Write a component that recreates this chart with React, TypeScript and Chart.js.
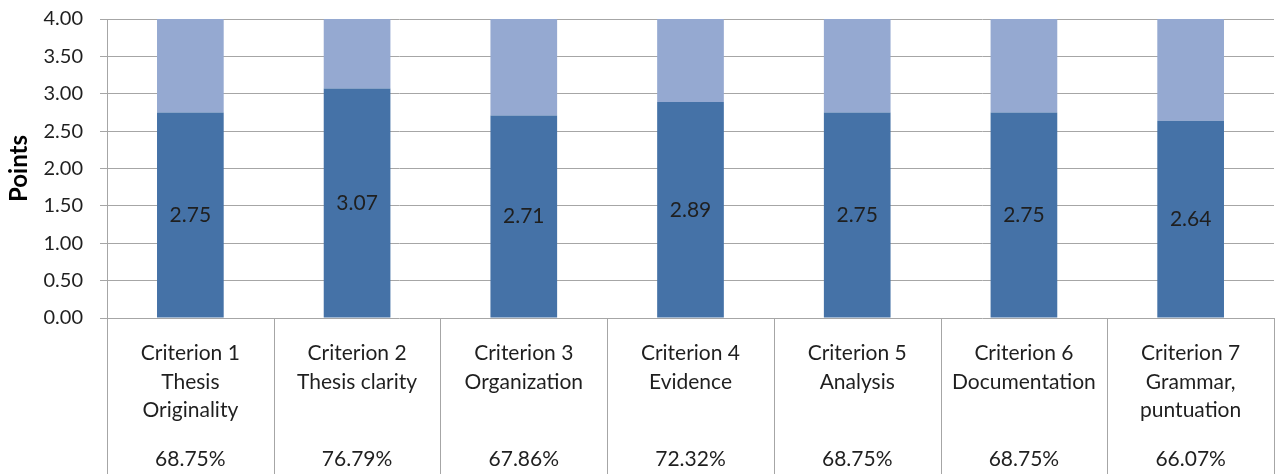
import { useEffect, useRef } from "react";
import { Chart, registerables } from "chart.js";

Chart.register(...registerables);

const categories: string[][] = [
  ["Criterion 1", "Thesis", "Originality"],
  ["Criterion 2", "Thesis clarity"],
  ["Criterion 3", "Organization"],
  ["Criterion 4", "Evidence"],
  ["Criterion 5", "Analysis"],
  ["Criterion 6", "Documentation"],
  ["Criterion 7", "Grammar,", "puntuation"],
];
const percentLabels = ["68.75%", "76.79%", "67.86%", "72.32%", "68.75%", "68.75%", "66.07%"];
const scores = [2.75, 3.07, 2.71, 2.89, 2.75, 2.75, 2.64];
const remaining = [1.25, 0.93, 1.29, 1.11, 1.25, 1.25, 1.36];
const yMin = 0;
const yMax = 4;
const yStep = 0.5;

const FONT = "Lato, 'Noto Sans', sans-serif";
const GRID = "#a6a6a6";
const TEXT = "#1f1f1f";

export default function App() {
  const ref = useRef<HTMLCanvasElement | null>(null);

  useEffect(() => {
    document.body.style.margin = "0";
    const canvas = ref.current;
    if (!canvas) return;

    const separators = {
      id: "separators",
      afterDraw(chart: any) {
        const xs = chart.scales.x;
        const n = categories.length;
        const step = xs.getPixelForValue(1) - xs.getPixelForValue(0);
        const ctx = chart.ctx;
        ctx.save();
        ctx.strokeStyle = GRID;
        ctx.lineWidth = 1;
        for (let i = 0; i <= n; i++) {
          const px = Math.round(xs.getPixelForValue(i) - step / 2) + 0.5;
          ctx.beginPath();
          ctx.moveTo(px, chart.chartArea.bottom);
          ctx.lineTo(px, chart.height);
          ctx.stroke();
        }
        ctx.restore();
      },
    };

    const valueLabels = {
      id: "valueLabels",
      afterDatasetsDraw(chart: any) {
        const meta = chart.getDatasetMeta(0);
        const ctx = chart.ctx;
        ctx.save();
        ctx.font = `21px ${FONT}`;
        ctx.fillStyle = TEXT;
        ctx.textAlign = "center";
        ctx.textBaseline = "middle";
        meta.data.forEach((el: any, i: number) => {
          const { x, y, base } = el.getProps(["x", "y", "base"], true);
          ctx.fillText(scores[i].toFixed(2), x, (y + base) / 2);
        });
        ctx.restore();
      },
    };

    const chart = new Chart(canvas, {
      type: "bar",
      data: {
        labels: categories,
        datasets: [
          {
            label: "Score",
            data: scores,
            backgroundColor: "#4572a7",
            categoryPercentage: 1,
            barPercentage: 0.4,
            borderWidth: 0,
          },
          {
            label: "Remaining",
            data: remaining,
            backgroundColor: "#95a9d1",
            categoryPercentage: 1,
            barPercentage: 0.4,
            borderWidth: 0,
          },
        ],
      },
      options: {
        animation: false,
        responsive: false,
        layout: { autoPadding: false, padding: { top: 19, right: 1, bottom: 0, left: 0 } },
        plugins: {
          legend: { display: false },
          tooltip: { enabled: false },
        },
        scales: {
          x: {
            type: "category",
            stacked: true,
            position: "bottom",
            grid: { display: false, offset: true },
            border: { display: false },
            ticks: {
              color: TEXT,
              font: { family: FONT, size: 21, lineHeight: 28.5 / 21 },
              padding: 13,
              maxRotation: 0,
              autoSkip: false,
            },
            afterFit(s: any) {
              s.height = 119;
            },
          },
          x2: {
            type: "category",
            labels: percentLabels,
            position: "bottom",
            grid: { display: false },
            border: { display: false },
            ticks: {
              color: TEXT,
              font: { family: FONT, size: 21, lineHeight: 28.5 / 21 },
              padding: 0,
              maxRotation: 0,
              autoSkip: false,
            },
            afterFit(s: any) {
              s.height = 37;
            },
          },
          y: {
            stacked: true,
            min: yMin,
            max: yMax,
            grid: { color: GRID, tickLength: 7, lineWidth: 1 },
            border: { display: true, color: GRID },
            ticks: {
              stepSize: yStep,
              color: TEXT,
              font: { family: FONT, size: 20 },
              padding: 17,
              callback: (v: any) => Number(v).toFixed(2),
            },
            title: {
              display: true,
              text: "Points",
              color: "#000",
              font: { family: FONT, size: 24, weight: "bold" },
              padding: { top: 5, bottom: 0 },
            },
            afterFit(s: any) {
              s.width = 107;
              s.paddingTop = 0;
              s.paddingBottom = 0;
            },
          },
        },
      },
      plugins: [separators, valueLabels],
    });

    return () => chart.destroy();
  }, []);

  return <canvas ref={ref} width={1275} height={474} style={{ display: "block" }} />;
}
